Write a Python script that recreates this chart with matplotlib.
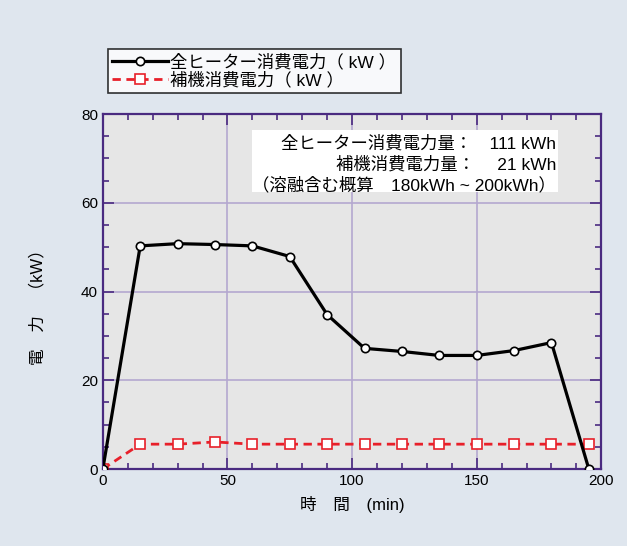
import matplotlib
matplotlib.use("Agg")
import matplotlib.pyplot as plt
from matplotlib.ticker import MultipleLocator
from matplotlib.patches import Rectangle

plt.rcParams['font.family'] = ['Liberation Sans', 'Noto Sans CJK JP', 'DejaVu Sans']

# data
minutes = [0, 15, 30, 45, 60, 75, 90, 105, 120, 135, 150, 165, 180, 195]
heater_kw = [0, 50.3, 50.8, 50.6, 50.3, 47.9, 34.8, 27.2, 26.5, 25.6, 25.6, 26.7, 28.5, 0]
aux_kw = [0, 5.6, 5.6, 6.1, 5.6, 5.6, 5.6, 5.6, 5.6, 5.6, 5.6, 5.6, 5.6, 5.6]

heater_label = '全ヒーター消費電力（ kW ）'
aux_label = '補機消費電力（ kW ）'
summary = ['全ヒーター消費電力量：　111 kWh',
           '補機消費電力量：　 21 kWh',
           '（溶融含む概算　180kWh ~ 200kWh）']

spine_col = '#4a2a80'
grid_col = '#b4a8d0'

fig = plt.figure(figsize=(6.27, 5.46), dpi=100)
fig.patch.set_facecolor('#dfe6ee')
ax = fig.add_axes([0.164, 0.141, 0.795, 0.650])
ax.set_facecolor('#e6e6e6')

l1, = ax.plot(minutes, heater_kw, color='black', lw=2.3, marker='o', ms=6,
              mfc='white', mec='black', mew=1.2, label=heater_label, zorder=4)
l2, = ax.plot(minutes, aux_kw, color='#e8202a', lw=2, ls=(0, (3, 2)), marker='s', ms=6.5,
              mfc='white', mec='#e8202a', mew=1.2, label=aux_label, zorder=3)

ax.set_xlim(0, 200)
ax.set_ylim(0, 80)
ax.xaxis.set_major_locator(MultipleLocator(50))
ax.xaxis.set_minor_locator(MultipleLocator(10))
ax.yaxis.set_major_locator(MultipleLocator(20))
ax.yaxis.set_minor_locator(MultipleLocator(5))
ax.tick_params(which='both', direction='in', top=True, right=True, color=spine_col,
               labelsize=11, width=1.2)
ax.tick_params(which='major', length=8)
ax.tick_params(which='minor', length=4)
ax.grid(True, which='major', color=grid_col, lw=1.2)
ax.set_axisbelow(True)
for s in ax.spines.values():
    s.set_color(spine_col)
    s.set_linewidth(1.6)

ax.set_xlabel('時　間　(min)', fontsize=12, labelpad=6)
fig.text(0.060, 0.445, '電　力　（kW）', rotation=90, ha='center', va='center', fontsize=12)

# summary box
ax.add_patch(Rectangle((0.299, 0.780), 0.615, 0.175, transform=ax.transAxes,
                       facecolor='white', edgecolor='none', zorder=2))
ax.text(0.910, 0.917, summary[0], transform=ax.transAxes, ha='right', va='center', fontsize=12.5, zorder=5)
ax.text(0.910, 0.858, summary[1], transform=ax.transAxes, ha='right', va='center', fontsize=12.5, zorder=5)
ax.text(0.300, 0.799, summary[2], transform=ax.transAxes, ha='left', va='center', fontsize=12.5, zorder=5)

leg = fig.legend(handles=[l1, l2], loc='upper left', bbox_to_anchor=(0.172, 0.910),
                 fontsize=12.5, frameon=True, fancybox=False, edgecolor='black',
                 handlelength=3.2, numpoints=1, borderpad=0.25, labelspacing=0.1,
                 handletextpad=0.15, borderaxespad=0)
leg.get_frame().set_linewidth(1.2)

fig.savefig('out.png', dpi=100, facecolor=fig.get_facecolor())
